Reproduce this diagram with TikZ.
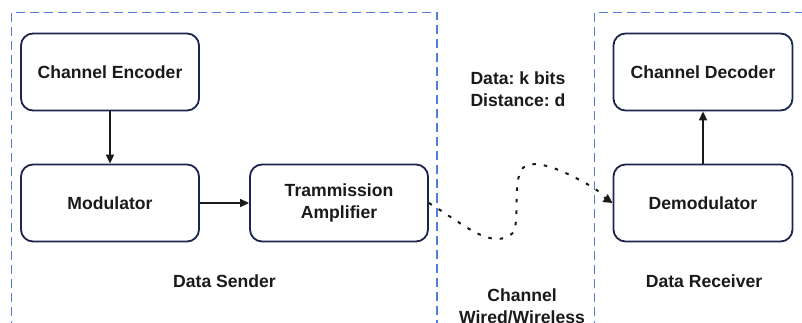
\documentclass[tikz,border=0pt]{standalone}
\usepackage{fontspec}
\setmainfont{Liberation Sans}
\usetikzlibrary{arrows.meta}
\frenchspacing
\begin{document}
\begin{tikzpicture}[x=1pt,y=-1pt,
  blk/.style={draw=boxcol, line width=1.8pt, rounded corners=12pt, minimum width=178pt, minimum height=77pt, align=center, font=\fontsize{17.6}{22}\selectfont\bfseries, text=txtcol},
  lbl/.style={font=\fontsize{17.6}{22}\selectfont\bfseries, text=txtcol, align=center},
  region/.style={draw=regcol, line width=1.1pt, dash pattern=on 9pt off 5pt},
  conn/.style={draw=txtcol, line width=1.5pt, -{Triangle[length=9pt,width=8pt]}},
  wave/.style={draw=txtcol, line width=2pt, dash pattern=on 3.5pt off 8pt, -{Triangle[length=9pt,width=9pt]}}]
\definecolor{boxcol}{HTML}{1C2450}
\definecolor{txtcol}{HTML}{1A1A1A}
\definecolor{regcol}{HTML}{4F7FD6}
\useasboundingbox (0,0) rectangle (802,323);
\clip (0,0) rectangle (802,323);
\fill[white] (0,0) rectangle (802,323);
% regions
\draw[region] (11.5,330) -- (11.5,12.5) -- (437,12.5) -- (437,330);
\draw[region] (594.5,330) -- (594.5,12.5) -- (810,12.5);
% blocks
\node[blk] (enc) at (110,72) {Channel Encoder};
\node[blk] (mod) at (110,203) {Modulator};
\node[blk] (amp) at (339,203) {Trammission\\Amplifier};
\node[blk, minimum width=179pt] (dec) at (703,72) {Channel Decoder};
\node[blk, minimum width=179pt] (dem) at (703,203) {Demodulator};
% labels
\node[lbl] (snd) at (224.5,281) {Data Sender};
\node[lbl] (rcv) at (704,281) {Data Receiver};
\node[lbl, align=left, anchor=west] (info) at (467,89) {Data: k bits\\Distance: d};
\node[lbl] (chn) at (522,306) {Channel\\Wired/Wireless};
% connectors
\draw[conn] (enc.south) -- (mod.north);
\draw[conn] (mod.east) -- (amp.west);
\draw[conn] (dem.north) -- (dec.south);
\draw[wave] (amp.east) .. controls (465,225) and (493,252) .. (514,232)
  .. controls (519,215) and (514,190) .. (520,172)
  .. controls (528,155) and (560,168) .. (594,188)
  .. controls (600,192) and (605,198) .. (dem.west);
\end{tikzpicture}
\end{document}
